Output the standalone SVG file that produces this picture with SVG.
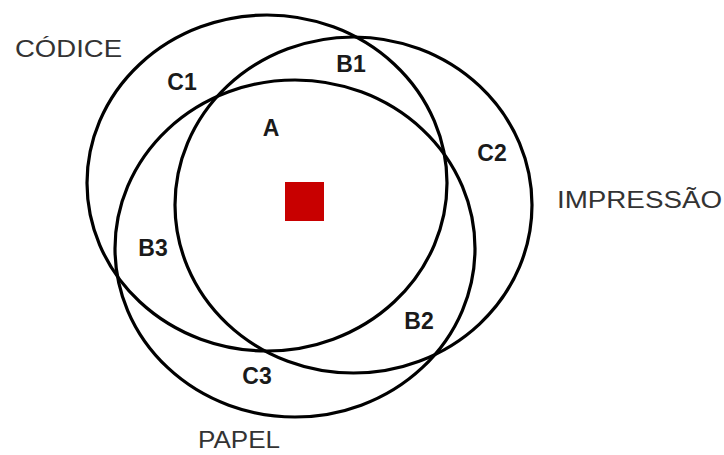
<svg xmlns="http://www.w3.org/2000/svg" width="724" height="455" viewBox="0 0 724 455">
<style>
.set{fill:none;stroke:#000;stroke-width:3.2}
.lbl{font-family:"Liberation Sans",Arial,sans-serif;font-weight:bold;font-size:23px;fill:#1a1a1a;text-anchor:middle}
.name{font-family:"Liberation Sans",Arial,sans-serif;font-size:24px;fill:#333}
</style>
<rect width="724" height="455" fill="#fff"/>
<g id="codice"><ellipse class="set" cx="267" cy="183" rx="180" ry="168"/><text class="name" x="15" y="57" textLength="107" lengthAdjust="spacingAndGlyphs">CÓDICE</text></g>
<g id="impressao"><ellipse class="set" cx="353.5" cy="205" rx="178.5" ry="168"/><text class="name" x="557" y="208" textLength="165" lengthAdjust="spacingAndGlyphs">IMPRESSÃO</text></g>
<g id="papel"><ellipse class="set" cx="295" cy="248.5" rx="180" ry="168.5"/><text class="name" x="198" y="448" textLength="82" lengthAdjust="spacingAndGlyphs">PAPEL</text></g>
<g id="core"><rect x="285" y="182" width="39" height="39" fill="#c80000"/></g>
<g id="regions">
<text class="lbl" x="182" y="90">C1</text>
<text class="lbl" x="351" y="72">B1</text>
<text class="lbl" x="492" y="161">C2</text>
<text class="lbl" x="153" y="256">B3</text>
<text class="lbl" x="419" y="329">B2</text>
<text class="lbl" x="257" y="384">C3</text>
<text class="lbl" x="271" y="136">A</text>
</g>
<g id="connectors"></g>
</svg>
